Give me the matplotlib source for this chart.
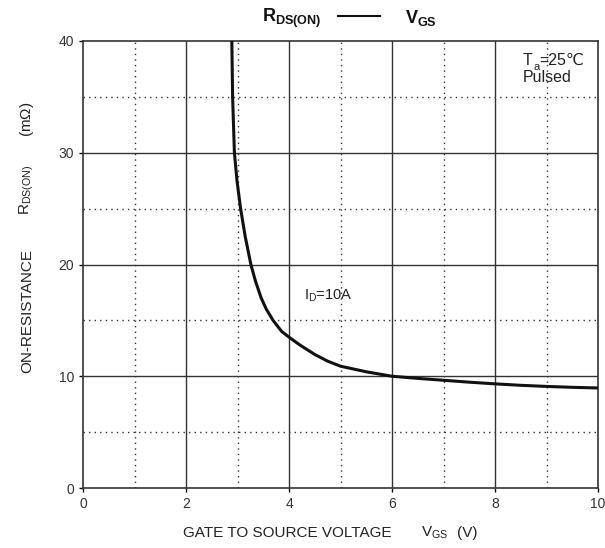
import numpy as np
import matplotlib
matplotlib.use('Agg')
import matplotlib.pyplot as plt
from matplotlib.lines import Line2D

plt.rcParams['font.family'] = ['Liberation Sans', 'DejaVu Sans']
plt.rcParams['mathtext.fontset'] = 'custom'
plt.rcParams['mathtext.rm'] = 'Liberation Sans'
plt.rcParams['mathtext.it'] = 'Liberation Sans'
plt.rcParams['mathtext.bf'] = 'Liberation Sans:bold'

# curva R_DS(on) vs V_GS
vgs = [2.89, 2.905, 2.94, 2.99, 3.06, 3.15, 3.26, 3.35, 3.46, 3.56, 3.69, 3.86,
       4.0, 4.21, 4.5, 4.75, 5.0, 5.5, 6.0, 6.5, 7.0, 7.5, 8.0, 8.5, 9.0, 9.5, 10.0]
rds = [40.0, 35.0, 30.0, 27.5, 25.0, 22.5, 20.0, 18.5, 17.0, 16.0, 15.0, 14.0,
       13.5, 12.8, 11.95, 11.35, 10.9, 10.4, 10.0, 9.81, 9.64, 9.47, 9.32,
       9.19, 9.09, 9.01, 8.95]

x_major = [0, 2, 4, 6, 8, 10]
y_major = [0, 10, 20, 30, 40]

W, H = 605, 548
fig = plt.figure(figsize=(W / 100, H / 100), dpi=100)
ax = fig.add_axes([83 / W, 1 - 488 / H, 515 / W, 447 / H])


def fx(px):
    return px / W


def fy(py):
    return 1 - py / H


# griglia: linee piene sui valori principali, punteggiate su quelli intermedi
for xv in [2, 4, 6, 8]:
    ax.axvline(xv, color='#333333', lw=1.0, zorder=1)
for xv in [1, 3, 5, 7, 9]:
    ax.axvline(xv, color='#333333', lw=1.0, ls=(0, (1, 3)), zorder=1)
for yv in [10, 20, 30]:
    ax.axhline(yv, color='#333333', lw=1.0, zorder=1)
for yv in [5, 15, 25, 35]:
    ax.axhline(yv, color='#333333', lw=1.0, ls=(0, (1, 3)), zorder=1)

ax.plot(vgs, rds, color='#111111', lw=2.2, zorder=3, solid_joinstyle='round')

ax.set_xlim(0, 10)
ax.set_ylim(0, 40)
ax.set_xticks(x_major)
ax.set_yticks(y_major)
ax.tick_params(labelsize=10, labelcolor='#333333', length=3, width=1, direction='out')
for s in ax.spines.values():
    s.set_color('#333333')
    s.set_linewidth(1.2)

tc = '#222222'
# etichetta asse x
fig.text(fx(183), fy(533), 'GATE TO SOURCE VOLTAGE', fontsize=11, color=tc,
         ha='left', va='center')
fig.text(fx(421), fy(533), r'V$_{\mathregular{GS}}$', fontsize=11, color=tc,
         ha='left', va='center')
fig.text(fx(457), fy(533), '(V)', fontsize=11, color=tc, ha='left', va='center')

# etichetta asse y
fig.text(fx(27), fy(311), 'ON-RESISTANCE', fontsize=11, color=tc, rotation=90,
         ha='center', va='center')
fig.text(fx(27), fy(190), r'R$_{\mathregular{DS(ON)}}$', fontsize=11, color=tc,
         rotation=90, ha='center', va='center')
fig.text(fx(27), fy(119), r'(m$\Omega$)', fontsize=11, color=tc, rotation=90,
         ha='center', va='center')

# titolo
fig.text(fx(262), fy(18), r'$\mathbf{R_{DS(ON)}}$', fontsize=13, color='#111111',
         ha='left', va='center')
fig.add_artist(Line2D([fx(338), fx(380)], [fy(16), fy(16)], color='#111111', lw=1.5))
fig.text(fx(405), fy(18), r'$\mathbf{V_{GS}}$', fontsize=13, color='#111111',
         ha='left', va='center')

# annotazioni
ax.text(4.3, 17.2, r'I$_{\mathregular{D}}$=10A', fontsize=10.5, color=tc,
        ha='left', va='center')
fig.text(fx(523), fy(65), 'T', fontsize=11.5, color=tc, ha='left', va='baseline')
fig.text(fx(533), fy(70), 'a', fontsize=8, color=tc, ha='left', va='baseline')
fig.text(fx(539), fy(65), '=25℃', fontsize=11.5, color=tc, ha='left', va='baseline')
fig.text(fx(547), fy(78), 'Pulsed', fontsize=11.5, color=tc, ha='center', va='center')

fig.savefig('out.png', dpi=100)
